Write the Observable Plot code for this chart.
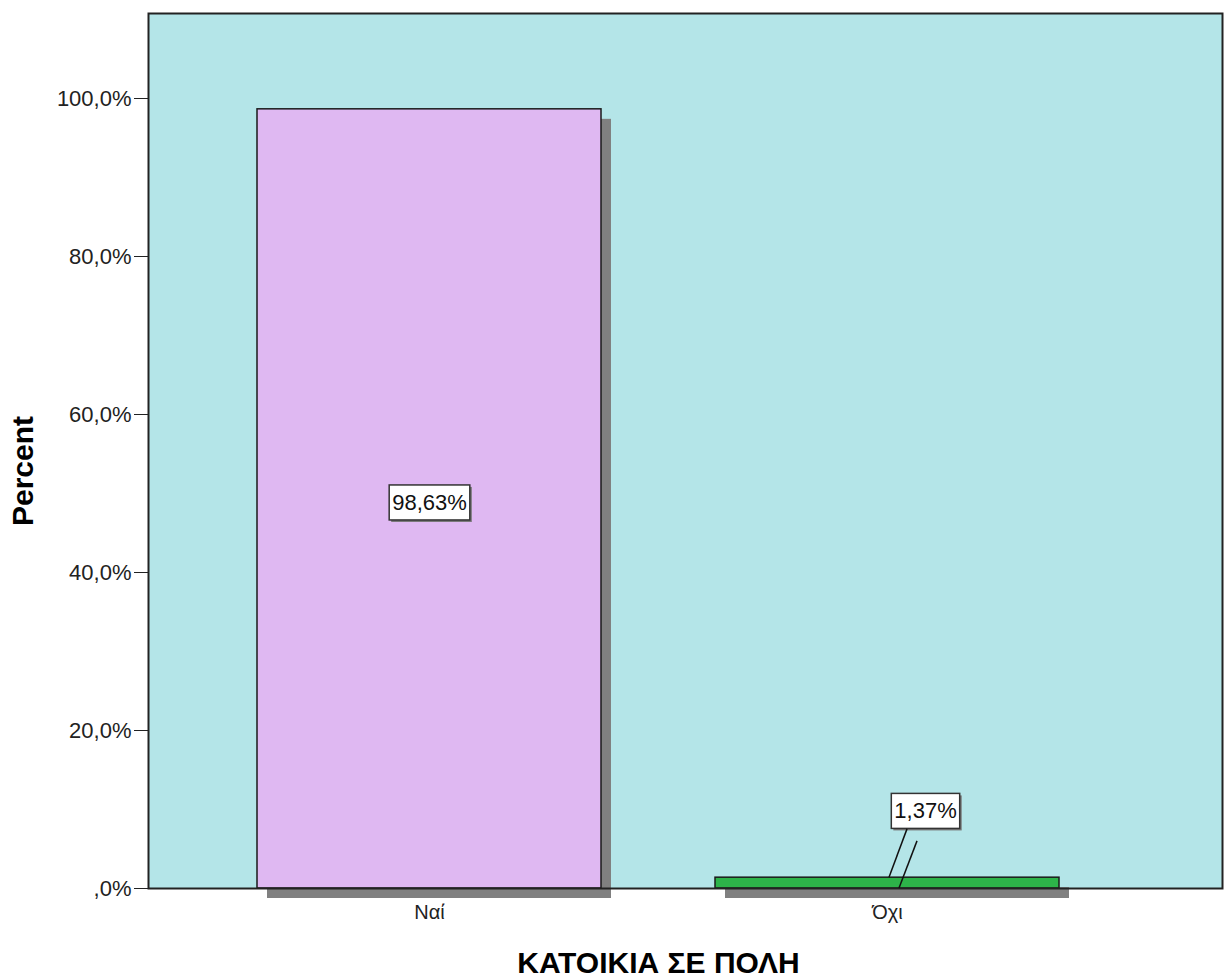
<!DOCTYPE html>
<html>
<head>
<meta charset="utf-8">
<script src="https://cdn.jsdelivr.net/npm/d3@7"></script>
<script src="https://cdn.jsdelivr.net/npm/@observablehq/plot@0.6"></script>
<style>
  html, body { margin: 0; padding: 0; background: #ffffff; overflow: hidden; }
  svg { display: block; }
</style>
</head>
<body>
<div id="chart"></div>
<script>
const categories = ["Ναί", "Όχι"];
const percents = [98.63, 1.37];
const valueLabels = ["98,63%", "1,37%"];
const barColors = ["#dfb8f2", "#2db349"];
const yTicks = [0, 20, 40, 60, 80, 100];
const yTickLabels = [",0%", "20,0%", "40,0%", "60,0%", "80,0%", "100,0%"];
const yAxisTitle = "Percent";
const xAxisTitle = "ΚΑΤΟΙΚΙΑ ΣΕ ΠΟΛΗ";

const data = categories.map((c, i) => ({
  cat: c,
  pct: percents[i],
  label: valueLabels[i],
  color: barColors[i],
  labelY: percents[i] > 50 ? percents[i] / 2 : percents[i] + 8.9
}));
const bigBars = data.filter(d => d.pct > 50);
const smallBars = data.filter(d => d.pct <= 50);

const FONT = "'Liberation Sans', Arial, sans-serif";
const SMALL_DX = 38;

const plot = Plot.plot({
  width: 1229,
  height: 980,
  marginLeft: 148,
  marginRight: 7,
  marginTop: 13,
  marginBottom: 92,
  style: { fontFamily: FONT, fontSize: "20px", color: "#222", background: "white", overflow: "visible" },
  x: {
    domain: categories,
    range: [257, 1059],
    paddingInner: 0.249,
    paddingOuter: 0,
    align: 0.5,
    tickSize: 0,
    tickPadding: 16,
    label: null
  },
  y: {
    domain: [0, 110.76],
    ticks: yTicks,
    tickFormat: d => yTickLabels[yTicks.indexOf(d)],
    tickSize: 14,
    tickPadding: 3,
    label: null
  },
  color: { type: "identity" },
  marks: [
    Plot.frame({ fill: "#b4e5e8" }),
    Plot.barY(data, { x: "cat", y: "pct", fill: "#808080", dx: 10, dy: 10 }),
    Plot.barY(data, { x: "cat", y: "pct", fill: d => d.color, stroke: "#1a1a1a", strokeWidth: 1.5 }),
    Plot.frame({ stroke: "#222", strokeWidth: 2 }),
    Plot.text(bigBars, {
      x: "cat", y: "labelY", text: "label", dy: 4,
      fontSize: 22, fill: "#111"
    }),
    Plot.text(smallBars, {
      x: "cat", y: "labelY", text: "label", dy: 4, dx: SMALL_DX,
      fontSize: 22, fill: "#111"
    }),
    Plot.text([yAxisTitle], {
      text: d => d, frameAnchor: "left", textAnchor: "middle", rotate: -90, dx: -125, dy: 20,
      fontSize: 30, fontWeight: "bold", fill: "#000"
    }),
    Plot.text([xAxisTitle], {
      text: d => d, frameAnchor: "bottom", dx: -27, dy: 84,
      fontSize: 30, fontWeight: "bold", fill: "#000"
    })
  ]
});

document.getElementById("chart").appendChild(plot);

const svg = d3.select(plot);

// y-axis tick labels slightly larger
svg.selectAll('g[aria-label="y-axis tick label"]').attr("font-size", 22);
svg.selectAll('g[aria-label="y-axis"] text').attr("font-size", 22);

// Leader lines for small bars, positioned through Plot's scales
const sx = plot.scale("x");
const sy = plot.scale("y");
const leaderG = svg.append("g").attr("aria-label", "leaders");
smallBars.forEach(d => {
  const cx = sx.apply(d.cat) + sx.bandwidth / 2;
  const yTop = sy.apply(d.pct);
  const yBase = sy.apply(0);
  const yLab = sy.apply(d.labelY) + 4;
  const boxBottom = yLab + 18;
  leaderG.append("line")
    .attr("x1", cx + 20).attr("y1", boxBottom)
    .attr("x2", cx + 2).attr("y2", yTop)
    .attr("stroke", "#111").attr("stroke-width", 1.5);
  leaderG.append("line")
    .attr("x1", cx + 30).attr("y1", boxBottom + 12)
    .attr("x2", cx + 12).attr("y2", yBase)
    .attr("stroke", "#111").attr("stroke-width", 1.5);
});

// White boxes behind value labels
svg.selectAll("text").filter(function () {
  return valueLabels.includes(this.textContent) && this.parentNode.tagName.toLowerCase() === "g";
}).each(function () {
  const bb = this.getBBox();
  const padX = 3, padY = 5;
  const tr = this.getAttribute("transform");
  const parent = d3.select(this.parentNode);
  const mk = () => parent.insert("rect", () => this);
  const shadow = mk()
    .attr("x", bb.x - padX + 2).attr("y", bb.y - padY + 2)
    .attr("width", bb.width + 2 * padX).attr("height", bb.height + 2 * padY)
    .attr("fill", "#777");
  const box = mk()
    .attr("x", bb.x - padX).attr("y", bb.y - padY)
    .attr("width", bb.width + 2 * padX).attr("height", bb.height + 2 * padY)
    .attr("fill", "white").attr("stroke", "#333").attr("stroke-width", 1.5);
  if (tr) { shadow.attr("transform", tr); box.attr("transform", tr); }
});
</script>
</body>
</html>
